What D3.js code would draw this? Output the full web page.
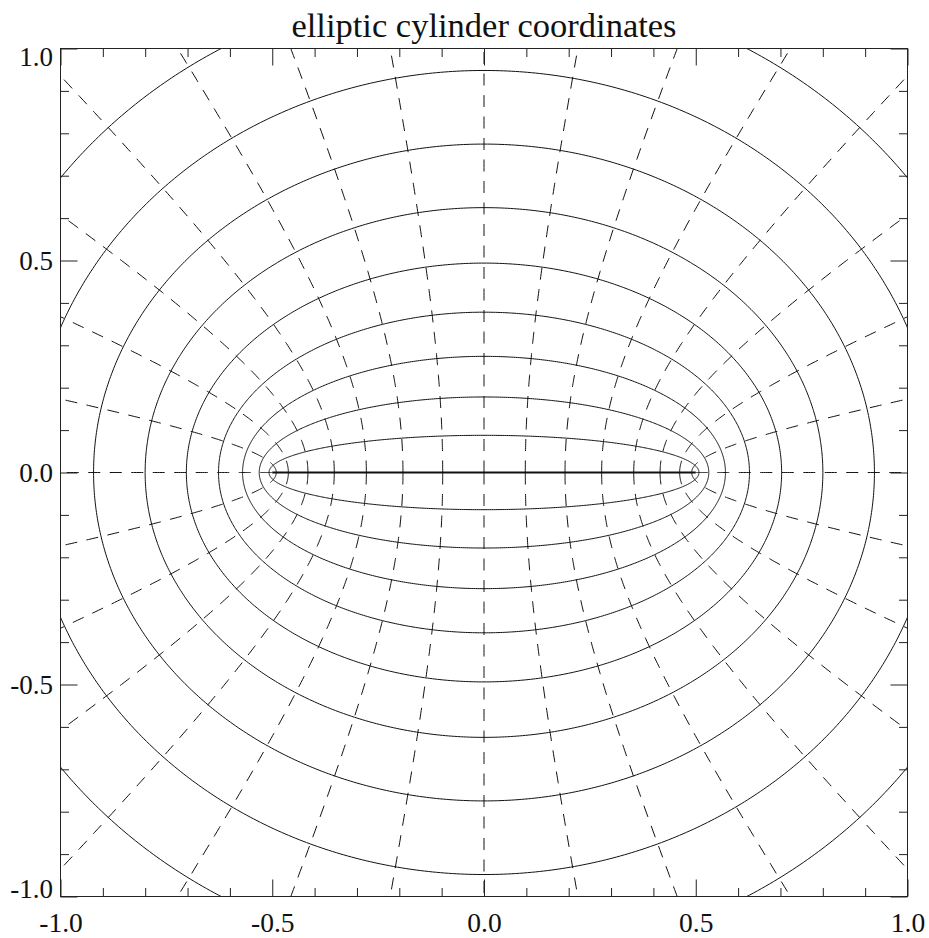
<!DOCTYPE html>
<html>
<head>
<meta charset="utf-8">
<script src="https://cdn.jsdelivr.net/npm/d3@7"></script>
<style>
  body { margin: 0; background: #fff; }
  text { font-family: "Liberation Serif", "Times New Roman", serif; fill: #111; }
</style>
</head>
<body>
<div id="chart"></div>
<script>
const WIDTH = 929, HEIGHT = 938;
const PLOT = { left: 60.5, right: 907.5, top: 48.5, bottom: 896.5 };
const TITLE = "elliptic cylinder coordinates";

// focal half distance of the ellipses / hyperbolas
const FOCUS = 0.5;
// mu of each ellipse (solid), 0 = the focal segment
const MU_VALUES = [0, 0.1745, 0.3491, 0.5236, 0.6981, 0.8727, 1.0472, 1.2217, 1.3963, 1.5708];
// nu of each hyperbola branch (dashed), degrees
const NU_DEGREES = [0, 11.25, 22.5, 33.75, 45, 56.25, 67.5, 78.75, 90, 101.25, 112.5, 123.75,
    135, 146.25, 157.5, 168.75, 180, 191.25, 202.5, 213.75, 225, 236.25, 247.5, 258.75,
    270, 281.25, 292.5, 303.75, 315, 326.25, 337.5, 348.75];
const X_TICKS = [-1.0, -0.5, 0.0, 0.5, 1.0];
const Y_TICKS = [-1.0, -0.5, 0.0, 0.5, 1.0];
const TICK_LABELS = ["-1.0", "-0.5", "0.0", "0.5", "1.0"];
const MINOR_TICKS = [-0.9, -0.8, -0.7, -0.6, -0.4, -0.3, -0.2, -0.1, 0.1, 0.2, 0.3, 0.4, 0.6, 0.7, 0.8, 0.9];
const MAJOR_LEN = 17, MINOR_LEN = 8.5;

const svg = d3.select("#chart")
    .append("svg")
    .attr("width", WIDTH)
    .attr("height", HEIGHT);
svg.append("rect").attr("width", WIDTH).attr("height", HEIGHT).attr("fill", "#fff");

let xScale = d3.scaleLinear().domain([-1, 1]).range([PLOT.left, PLOT.right]);
let yScale = d3.scaleLinear().domain([-1, 1]).range([PLOT.bottom, PLOT.top]);

svg.append("defs").append("clipPath").attr("id", "plot-clip")
    .append("rect")
    .attr("x", PLOT.left).attr("y", PLOT.top)
    .attr("width", PLOT.right - PLOT.left).attr("height", PLOT.bottom - PLOT.top);

const curves = svg.append("g").attr("clip-path", "url(#plot-clip)");
const line = d3.line()
    .x(function (d) { return xScale(d[0]) })
    .y(function (d) { return yScale(d[1]) });

// parameter steps used to trace each coordinate curve
const nuSteps = d3.range(0, 360.25, 0.5).map(d => d * Math.PI / 180);
const muSteps = d3.range(0, 2.7, 0.01);

// ellipses: constant mu
MU_VALUES.forEach(function (mu) {
    const pts = nuSteps.map(nu => [FOCUS * Math.cosh(mu) * Math.cos(nu), FOCUS * Math.sinh(mu) * Math.sin(nu)]);
    curves.append("path")
        .datum(pts)
        .attr("d", line)
        .attr("fill", "none")
        .attr("stroke", "#111")
        .attr("stroke-width", mu === 0 ? 1.8 : 1);
});

// hyperbola branches: constant nu
NU_DEGREES.forEach(function (deg) {
    const nu = deg * Math.PI / 180;
    const pts = muSteps.map(mu => [FOCUS * Math.cosh(mu) * Math.cos(nu), FOCUS * Math.sinh(mu) * Math.sin(nu)]);
    curves.append("path")
        .datum(pts)
        .attr("d", line)
        .attr("fill", "none")
        .attr("stroke", "#111")
        .attr("stroke-width", 1)
        .attr("stroke-dasharray", "12,9.5");
});

// frame
svg.append("rect")
    .attr("x", PLOT.left).attr("y", PLOT.top)
    .attr("width", PLOT.right - PLOT.left).attr("height", PLOT.bottom - PLOT.top)
    .attr("fill", "none").attr("stroke", "#222").attr("stroke-width", 1);

function fmt(d, i) { return TICK_LABELS[i] }
function cleanAxis(g) {
    g.attr("font-family", null);
    g.select(".domain").remove();
    g.selectAll(".tick line").attr("stroke", "#222");
}

// minor ticks on all sides
svg.append("g").attr("transform", "translate(0," + PLOT.bottom + ")")
    .call(d3.axisBottom(xScale).tickValues(MINOR_TICKS).tickSize(-MINOR_LEN).tickFormat(""))
    .call(cleanAxis);
svg.append("g").attr("transform", "translate(0," + PLOT.top + ")")
    .call(d3.axisTop(xScale).tickValues(MINOR_TICKS).tickSize(-MINOR_LEN).tickFormat(""))
    .call(cleanAxis);
svg.append("g").attr("transform", "translate(" + PLOT.left + ",0)")
    .call(d3.axisLeft(yScale).tickValues(MINOR_TICKS).tickSize(-MINOR_LEN).tickFormat(""))
    .call(cleanAxis);
svg.append("g").attr("transform", "translate(" + PLOT.right + ",0)")
    .call(d3.axisRight(yScale).tickValues(MINOR_TICKS).tickSize(-MINOR_LEN).tickFormat(""))
    .call(cleanAxis);

// major ticks + labels
const xAxisG = svg.append("g").attr("transform", "translate(0," + PLOT.bottom + ")")
    .call(d3.axisBottom(xScale).tickValues(X_TICKS).tickSize(-MAJOR_LEN).tickPadding(16).tickFormat(fmt))
    .call(cleanAxis);
svg.append("g").attr("transform", "translate(0," + PLOT.top + ")")
    .call(d3.axisTop(xScale).tickValues(X_TICKS).tickSize(-MAJOR_LEN).tickFormat(""))
    .call(cleanAxis);
const yAxisG = svg.append("g").attr("transform", "translate(" + PLOT.left + ",0)")
    .call(d3.axisLeft(yScale).tickValues(Y_TICKS).tickSize(-MAJOR_LEN).tickPadding(7.5).tickFormat(fmt))
    .call(cleanAxis);
svg.append("g").attr("transform", "translate(" + PLOT.right + ",0)")
    .call(d3.axisRight(yScale).tickValues(Y_TICKS).tickSize(-MAJOR_LEN).tickFormat(""))
    .call(cleanAxis);

xAxisG.selectAll("text").attr("font-size", 27.5);
yAxisG.selectAll("text").attr("font-size", 27)
    .attr("transform", function (d) { return d === 1 ? "translate(0,8)" : d === -1 ? "translate(0,-8)" : null });
svg.selectAll(".tick text").style("fill", "#111");

svg.append("text")
    .attr("x", (PLOT.left + PLOT.right) / 2)
    .attr("y", 36.5)
    .attr("text-anchor", "middle")
    .attr("font-size", 34.5)
    .text(TITLE);
</script>
</body>
</html>
